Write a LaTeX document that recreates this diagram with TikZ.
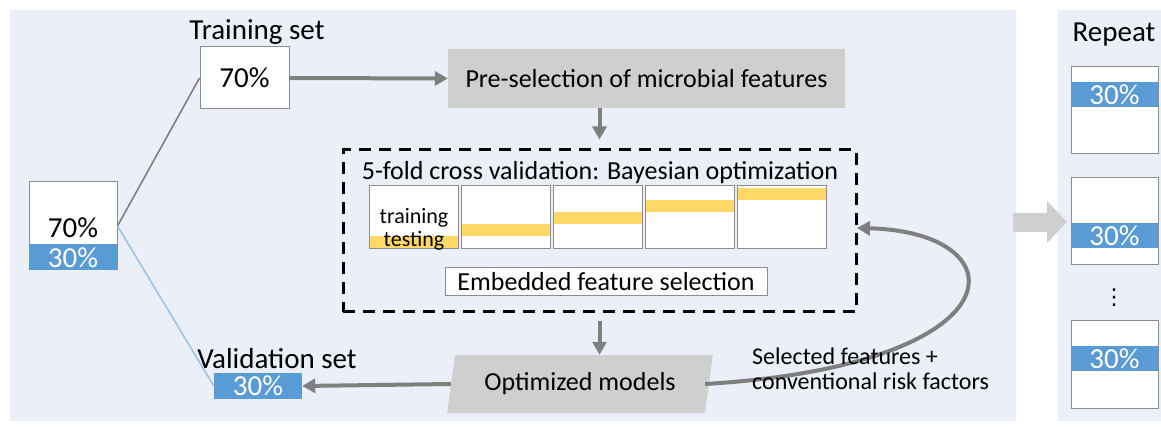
\documentclass[tikz,border=0pt]{standalone}
\usepackage{fontspec}
\setmainfont{Carlito}
\newfontfamily\symfont{DejaVu Sans}
\usetikzlibrary{arrows.meta,shapes.geometric}
\definecolor{panel}{HTML}{EAEFF8}
\definecolor{pctblue}{HTML}{5B9BD5}
\definecolor{stepgray}{HTML}{CFCFCF}
\definecolor{flowgray}{HTML}{7F7F7F}
\definecolor{foldyellow}{HTML}{FFD966}
\definecolor{edgegray}{HTML}{8C8C8C}
\definecolor{lineblue}{HTML}{9DC3E6}
\tikzset{
  big/.style={font=\fontsize{29}{32}\selectfont},
  mid/.style={font=\fontsize{26}{28}\selectfont},
  small/.style={font=\fontsize{22}{24}\selectfont},
  note/.style={font=\fontsize{24}{24}\selectfont, anchor=west, inner sep=0pt},
  whitebox/.style={draw=edgegray, line width=1pt, fill=white, inner sep=0pt},
  bluebox/.style={fill=pctblue, text=white, inner sep=0pt, big},
  stepbox/.style={fill=stepgray, inner sep=0pt, mid},
  flow/.style={draw=flowgray, line width=4pt, -{Triangle[length=13pt,width=14pt]}},
  split/.style={line width=1.6pt},
}
\begin{document}
\begin{tikzpicture}[x=1pt,y=-1pt]
\useasboundingbox (0,0) rectangle (1161,427);
% background panels
\fill[white] (0,0) rectangle (1161,427);
\fill[panel] (10,10) rectangle (1016,421);
\fill[panel] (1058,10) rectangle (1161,421);

% whole data set
\node[whitebox, minimum width=88pt, minimum height=88pt] (whole) at (73,226) {};
\node[bluebox, anchor=south, minimum width=88pt, minimum height=26pt] (wholetest) at (whole.south) {30\%};
\node[big, inner sep=0pt] (wholetrain) at (73,228) {70\%};

% training set
\node[big, inner sep=0pt] (trainlbl) at (257,32) {Training set};
\node[whitebox, big, minimum width=89pt, minimum height=62pt] (train) at (244.5,78) {70\%};

% validation set
\node[big, inner sep=0pt] (vallbl) at (277,359) {Validation set};
\node[bluebox, minimum width=88pt, minimum height=26pt] (val) at (258,386) {30\%};

% split lines
\draw[split, draw=flowgray] (whole.east) -- (train.west);
\draw[split, draw=lineblue] (whole.east) -- (val.west);

% pre-selection
\node[stepbox, minimum width=397pt, minimum height=59pt] (pre) at (646.5,78.5) {Pre-selection of microbial features};
\draw[flow] (train.east) -- (pre.west);

% cross validation block
\node[draw=black, line width=3pt, dash pattern=on 12pt off 8pt, minimum width=513pt, minimum height=162pt, inner sep=0pt] (cv) at (599.5,231) {};
\draw[flow, shorten >=9pt] (pre.south -| cv.north) -- (cv.north);
\node[mid, inner sep=0pt] (cvtitle) at (600,173) {5-fold cross validation: Bayesian optimization};

% folds
\foreach \i/\x/\band in {1/414/236, 2/506/224, 3/598/212, 4/690/200, 5/782/188} {
  \node[fill=white, minimum width=88pt, minimum height=62pt, inner sep=0pt] (f\i) at (\x,217) {};
  \fill[foldyellow] (\x-44,\band) rectangle (\x+44,\band+12);
  \draw[edgegray, line width=1pt] (f\i.north west) rectangle (f\i.south east);
}
\node[small, inner sep=0pt] (trainword) at (414,218) {training};
\node[small, inner sep=0pt] (testword) at (414,241) {testing};

\node[whitebox, mid, minimum width=322pt, minimum height=28pt] (emb) at (606,282) {Embedded feature selection};

% optimized models
\node[trapezium, trapezium left angle=75, trapezium right angle=105, trapezium stretches=true,
      fill=stepgray, minimum width=266pt, minimum height=58pt, inner sep=0pt, mid] (opt) at (580,384) {Optimized models};
\draw[flow, shorten <=8pt] (cv.south) -- (cv.south |- opt.north);
\draw[flow] (opt.west) -- (val.east);

% feedback loop
\coordinate (loopin) at (857,228);
\draw[flow] ([xshift=-4pt]opt.east) .. controls (1022,365) and (1022,232) .. (loopin);
\node[note] (sel1) at (752,356) {Selected features +};
\node[note] (sel2) at (752,381) {conventional risk factors};

% repetitions
\node[big, inner sep=0pt] (rep) at (1114,35) {Repeat};
\foreach \j/\top/\band in {1/67/82, 2/178/223, 3/321/346} {
  \node[whitebox, minimum width=87pt, minimum height=87pt] (r\j) at (1114.5,\top+43.5) {};
  \node[bluebox, anchor=north, minimum width=86pt, minimum height=25pt] (rb\j) at (1114.5,\band) {30\%};
}
\node[inner sep=0pt, font=\symfont\fontsize{22}{22}\selectfont] (dots) at (1114,298) {⋮};

% hand-off arrow
\fill[stepgray] (1013,213) -- (1047,213) -- (1047,201) -- (1067,222) -- (1047,243) -- (1047,232) -- (1013,232) -- cycle;
\end{tikzpicture}
\end{document}
